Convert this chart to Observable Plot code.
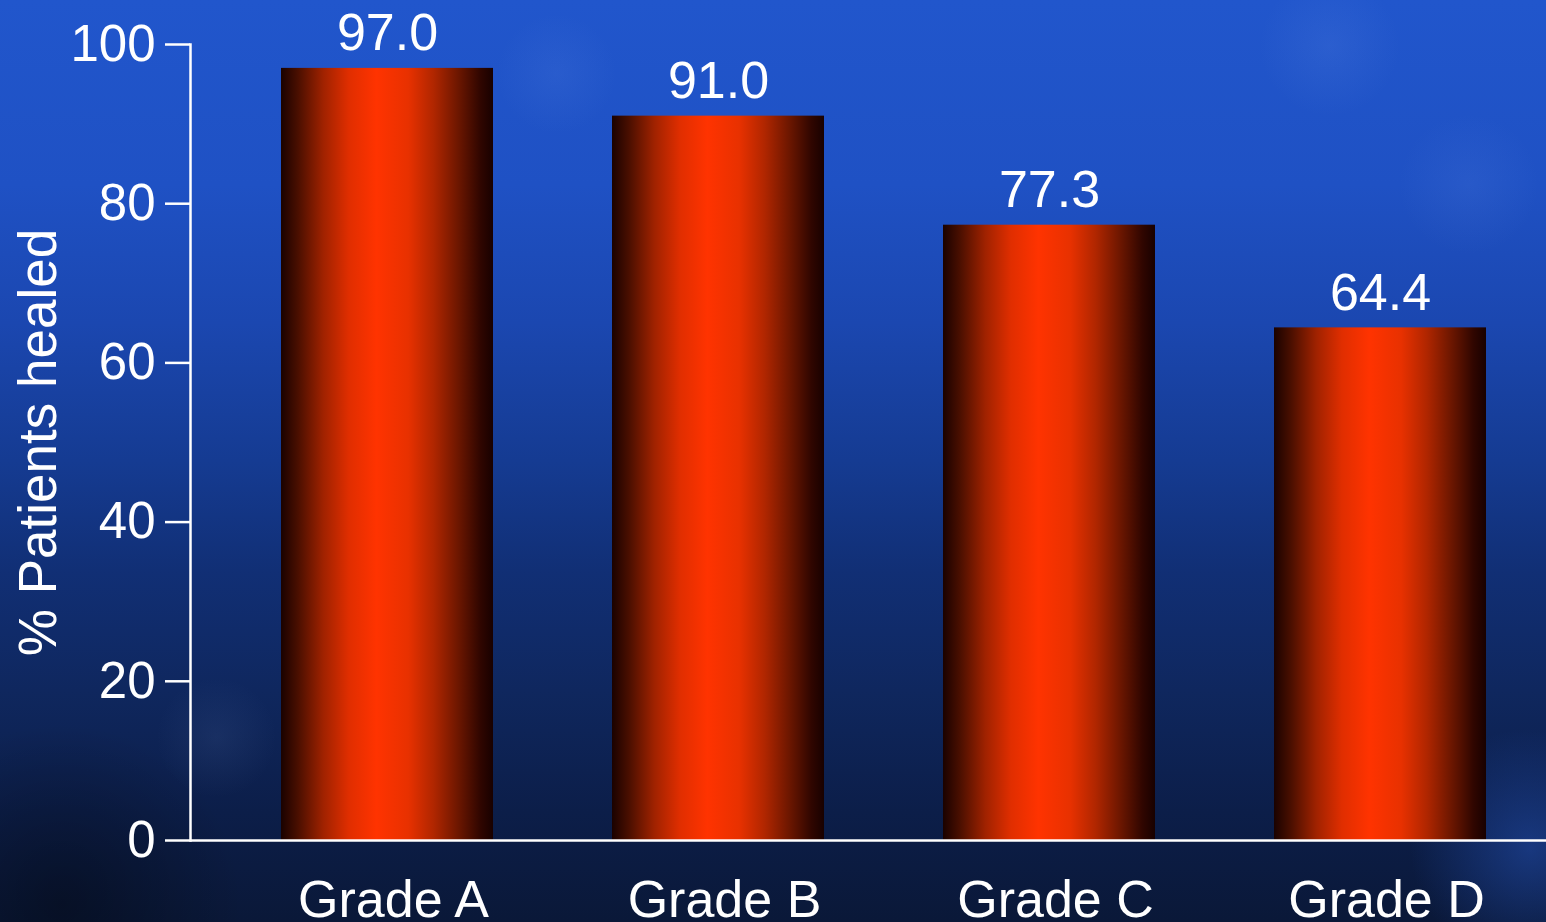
<!DOCTYPE html>
<html>
<head>
<meta charset="utf-8">
<script src="https://cdn.jsdelivr.net/npm/d3@7"></script>
<script src="https://cdn.jsdelivr.net/npm/@observablehq/plot@0.6"></script>
<style>
  html, body { margin: 0; padding: 0; }
  body {
    width: 1546px; height: 922px; overflow: hidden;
    background:
      radial-gradient(circle at 4% 98%, rgba(0,0,0,0.35) 0, rgba(0,0,0,0) 180px),
      radial-gradient(circle at 14% 80%, rgba(120,150,210,0.10) 0, rgba(120,150,210,0) 60px),
      radial-gradient(circle at 86% 5%, rgba(120,160,240,0.12) 0, rgba(120,160,240,0) 70px),
      radial-gradient(circle at 95% 20%, rgba(120,160,240,0.10) 0, rgba(120,160,240,0) 70px),
      radial-gradient(circle at 36% 8%, rgba(120,160,240,0.10) 0, rgba(120,160,240,0) 60px),
      radial-gradient(circle at 99% 92%, rgba(40,90,200,0.45) 0, rgba(40,90,200,0) 120px),
      linear-gradient(to bottom, #2156cc 0%, #1f51c4 20%, #1b47b0 35%, #153b92 50%, #112f75 62%, #0f275e 75%, #0c1e49 88%, #0a1838 100%);
    font-family: "Liberation Sans", Arial, sans-serif;
  }
  #chart svg { display: block; }
</style>
</head>
<body>
<div id="chart"></div>
<script>
const grades = ["Grade A", "Grade B", "Grade C", "Grade D"];
const healed = [97.0, 91.0, 77.3, 64.4];
const yTicks = [0, 20, 40, 60, 80, 100];
const yLabel = "% Patients healed";

const data = grades.map((g, i) => ({grade: g, value: healed[i]}));

const plot = Plot.plot({
  width: 1546,
  height: 922,
  marginLeft: 190,
  marginRight: 0,
  marginTop: 44,
  marginBottom: 82,
  style: {background: "transparent", color: "white", fontFamily: "Liberation Sans, Arial, sans-serif", overflow: "visible"},
  x: {domain: grades, paddingInner: 0.36, paddingOuter: 0.228, align: 0.602},
  y: {domain: [0, 100]},
  marks: [
    Plot.barY(data, {x: "grade", y: "value", fill: "url(#barGrad)"}),
    Plot.axisY({ticks: yTicks, tickSize: 25, tickPadding: 10, fontSize: 51, strokeWidth: 2.5, stroke: "white",
      label: yLabel, labelAnchor: "center", labelOffset: 172, labelArrow: "none"}),
    Plot.axisX({tickSize: 0, tickPadding: 40, fontSize: 52, dx: 6, label: null}),
    Plot.frame({anchor: "left", stroke: "white", strokeWidth: 2.5}),
    Plot.ruleY([0], {stroke: "white", strokeWidth: 2.5}),
    Plot.text(data, {x: "grade", y: "value", text: d => d.value.toFixed(1), dy: -18, lineAnchor: "bottom", fontSize: 52, fill: "white"})
  ]
});

const defs = d3.select(plot).insert("defs", ":first-child");
const grad = defs.append("linearGradient").attr("id", "barGrad").attr("x1", "0").attr("x2", "1").attr("y1", "0").attr("y2", "0");
[[0, "#1a0200"], [0.08, "#4a0f00"], [0.2, "#a02200"], [0.32, "#e02e00"], [0.45, "#ff3300"], [0.6, "#e83100"], [0.72, "#b02600"], [0.84, "#6a1600"], [0.94, "#300600"], [1, "#180100"]]
  .forEach(([o, c]) => grad.append("stop").attr("offset", o).attr("stop-color", c));

d3.select(plot).selectAll("[aria-label='y-axis label'] text, [aria-label='y-axis label']").attr("font-size", 53);
document.getElementById("chart").appendChild(plot);
</script>
</body>
</html>
